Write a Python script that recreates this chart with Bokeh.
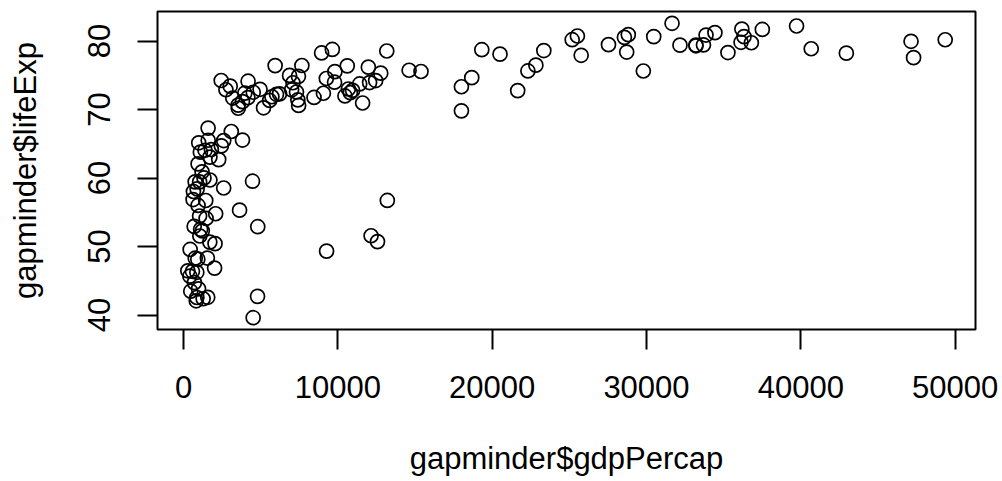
import math
from bokeh.plotting import figure
from bokeh.models import Range1d, FixedTicker, ColumnDataSource
from bokeh.embed import file_html
from bokeh.resources import INLINE

countries = ["Afghanistan","Albania","Algeria","Angola","Argentina","Australia","Austria","Bahrain","Bangladesh","Belgium",
"Benin","Bolivia","Bosnia and Herzegovina","Botswana","Brazil","Bulgaria","Burkina Faso","Burundi","Cambodia","Cameroon",
"Canada","Central African Republic","Chad","Chile","China","Colombia","Comoros","Congo, Dem. Rep.","Congo, Rep.","Costa Rica",
"Cote d'Ivoire","Croatia","Cuba","Czech Republic","Denmark","Djibouti","Dominican Republic","Ecuador","Egypt","El Salvador",
"Equatorial Guinea","Eritrea","Ethiopia","Finland","France","Gabon","Gambia","Germany","Ghana","Greece",
"Guatemala","Guinea","Guinea-Bissau","Haiti","Honduras","Hong Kong, China","Hungary","Iceland","India","Indonesia",
"Iran","Iraq","Ireland","Israel","Italy","Jamaica","Japan","Jordan","Kenya","Korea, Dem. Rep.",
"Korea, Rep.","Kuwait","Lebanon","Lesotho","Liberia","Libya","Madagascar","Malawi","Malaysia","Mali",
"Mauritania","Mauritius","Mexico","Mongolia","Montenegro","Morocco","Mozambique","Myanmar","Namibia","Nepal",
"Netherlands","New Zealand","Nicaragua","Niger","Nigeria","Norway","Oman","Pakistan","Panama","Paraguay",
"Peru","Philippines","Poland","Portugal","Puerto Rico","Reunion","Romania","Rwanda","Sao Tome and Principe","Saudi Arabia",
"Senegal","Serbia","Sierra Leone","Singapore","Slovak Republic","Slovenia","Somalia","South Africa","Spain","Sri Lanka",
"Sudan","Swaziland","Sweden","Switzerland","Syria","Taiwan","Tanzania","Thailand","Togo","Trinidad and Tobago",
"Tunisia","Turkey","Uganda","United Kingdom","United States","Uruguay","Venezuela","Vietnam","West Bank and Gaza","Yemen, Rep.",
"Zambia","Zimbabwe"]

life_exp = [43.828,76.423,72.301,42.731,75.320,81.235,79.829,75.635,64.062,79.441,
56.728,65.554,74.852,50.728,72.390,73.005,52.295,49.580,59.723,50.430,
80.653,44.741,50.651,78.553,72.961,72.889,65.152,46.462,55.322,78.782,
48.328,75.748,78.273,76.486,78.332,54.791,72.235,74.994,71.338,71.878,
51.579,58.040,52.947,79.313,80.657,56.735,59.448,79.406,60.022,79.483,
70.259,56.007,46.388,60.916,70.198,82.208,73.338,81.757,64.698,70.650,
70.964,59.545,78.885,80.745,80.546,72.567,82.603,72.535,54.110,67.297,
78.623,77.588,71.993,42.592,45.678,73.952,59.443,48.303,74.241,54.467,
64.164,72.801,76.195,66.803,74.543,71.164,42.082,62.069,52.906,63.785,
79.762,80.204,72.899,56.867,46.859,80.196,75.640,65.483,75.537,71.752,
71.421,71.688,75.563,78.098,78.746,76.442,72.476,46.242,65.528,72.777,
63.062,74.002,42.568,79.972,74.663,77.926,48.159,49.339,80.941,72.396,
58.556,39.613,80.884,81.701,74.143,78.400,52.517,70.616,58.420,69.819,
73.923,71.777,51.542,79.425,78.242,76.384,73.747,74.249,73.422,62.698,
42.384,43.487]

gdp_percap = [974.58,5937.03,6223.37,4797.23,12779.38,34435.37,36126.49,29796.05,1391.25,33692.61,
1441.28,3822.14,7446.30,12569.85,9065.80,10680.79,1217.03,430.07,1713.78,2042.10,
36319.24,706.02,1704.06,13171.64,4959.11,7006.58,986.15,277.55,3632.56,9645.06,
1544.75,14619.22,8948.10,22833.31,35278.42,2082.48,6025.37,6873.26,5581.18,5728.35,
12154.09,641.37,690.81,33207.08,30470.02,13206.48,752.75,32170.37,1327.61,27538.41,
5186.05,942.65,579.23,1201.64,3548.33,39724.98,18008.94,36180.79,2452.21,3540.65,
11605.71,4471.06,40675.00,25523.28,28569.72,7320.88,31656.07,4519.46,1463.25,1593.07,
23348.14,47306.99,10461.06,1569.33,414.51,12057.50,1044.77,759.35,12451.66,1042.58,
1803.15,10956.99,11977.57,3095.77,9253.90,3820.18,823.69,944.00,4811.06,1091.36,
36797.93,25185.01,2749.32,619.68,2013.98,49357.19,22316.19,2605.95,9809.19,4172.84,
7408.91,3190.48,15389.92,20509.65,19328.71,7670.12,10808.48,863.09,1598.44,21654.83,
1712.47,9786.53,862.54,47143.18,18678.31,25768.26,926.14,9269.66,28821.06,3970.10,
2602.39,4513.48,33859.75,37506.42,4184.55,28718.28,1107.48,7458.40,882.97,18008.51,
7092.92,8458.28,1056.38,33203.26,42951.65,10611.46,11415.81,2441.58,3025.35,2280.77,
1271.21,469.71]

x_ticks = [0, 10000, 20000, 30000, 40000, 50000]
y_ticks = [40, 50, 60, 70, 80]
x_label = "gapminder$gdpPercap"
y_label = "gapminder$lifeExp"

def rrange(v):
    lo, hi = min(v), max(v)
    d = (hi - lo) * 0.04
    return lo - d, hi + d

xr = rrange(gdp_percap)
yr = rrange(life_exp)

FONT = "Liberation Sans"
FS = "31px"

p = figure(width=1002, height=481, output_backend="svg", toolbar_location=None,
           x_range=Range1d(*xr), y_range=Range1d(*yr),
           min_border_left=157, min_border_right=27, min_border_top=11, min_border_bottom=152)
p.background_fill_color = "white"
p.border_fill_color = "white"
p.xgrid.visible = False
p.ygrid.visible = False
p.outline_line_color = "black"
p.outline_line_width = 2
p.outline_line_alpha = 1

for ax, ticks in ((p.xaxis, x_ticks), (p.yaxis, y_ticks)):
    ax.ticker = FixedTicker(ticks=ticks)
    ax.axis_line_color = None
    ax.major_tick_out = 20
    ax.major_tick_in = 0
    ax.minor_tick_out = 0
    ax.minor_tick_in = 0
    ax.major_tick_line_color = "black"
    ax.major_tick_line_width = 2
    ax.major_label_text_font = FONT
    ax.major_label_text_font_size = FS
    ax.major_label_text_color = "black"
    ax.axis_label_text_font = FONT
    ax.axis_label_text_font_size = FS
    ax.axis_label_text_font_style = "normal"
    ax.axis_label_text_color = "black"

p.xaxis.axis_label = x_label
p.yaxis.axis_label = y_label
p.xaxis.major_label_standoff = 26
p.yaxis.major_label_standoff = 27
p.xaxis.axis_label_standoff = 40
p.yaxis.axis_label_standoff = 43
p.yaxis.major_label_orientation = "vertical"

src = ColumnDataSource(dict(x=gdp_percap, y=life_exp, country=countries))
p.scatter(x="x", y="y", source=src, marker="circle", size=14,
          fill_color=None, line_color="black", line_width=1.7)

open("out.html", "w").write(file_html(p, INLINE))
